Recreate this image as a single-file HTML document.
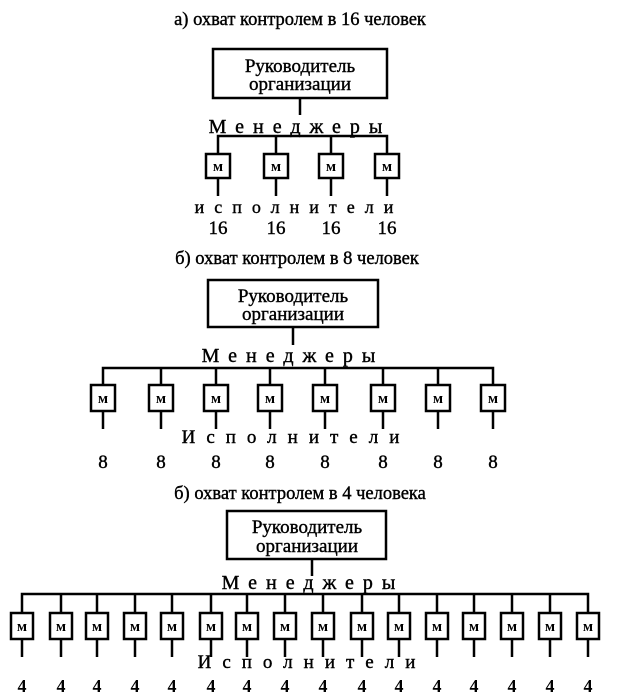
<!DOCTYPE html>
<html><head><meta charset="utf-8"><style>
html,body{margin:0;padding:0;background:#fff;}
svg{display:block;font-family:"Liberation Serif","DejaVu Serif",serif;}
</style></head><body>
<svg width="621" height="696" viewBox="0 0 621 696" xmlns="http://www.w3.org/2000/svg">
<g fill="none" stroke="#000" stroke-width="2.5">
<rect x="213" y="49" width="174" height="49"/>
<line x1="300" y1="98" x2="300" y2="115"/>
<polyline points="218,153 218,136 387,136 387,153"/>
<line x1="276" y1="136" x2="276" y2="153"/><line x1="331" y1="136" x2="331" y2="153"/>
<rect x="206" y="154" width="24" height="24"/><rect x="264" y="154" width="24" height="24"/>
<rect x="319" y="154" width="24" height="24"/><rect x="375" y="154" width="24" height="24"/>
<line x1="218" y1="178" x2="218" y2="196"/><line x1="276" y1="178" x2="276" y2="196"/>
<line x1="331" y1="178" x2="331" y2="196"/><line x1="387" y1="178" x2="387" y2="196"/>
<rect x="208" y="280" width="170" height="47"/>
<line x1="293" y1="327" x2="293" y2="345"/>
<polyline points="103,385 103,368 493,368 493,385"/>
<line x1="161" y1="368" x2="161" y2="385"/><line x1="216" y1="368" x2="216" y2="385"/>
<line x1="270" y1="368" x2="270" y2="385"/><line x1="325" y1="368" x2="325" y2="385"/>
<line x1="383" y1="368" x2="383" y2="385"/><line x1="438" y1="368" x2="438" y2="385"/>
<rect x="91" y="385" width="24" height="26"/><rect x="149" y="385" width="24" height="26"/>
<rect x="204" y="385" width="24" height="26"/><rect x="258" y="385" width="24" height="26"/>
<rect x="313" y="385" width="24" height="26"/><rect x="371" y="385" width="24" height="26"/>
<rect x="426" y="385" width="24" height="26"/><rect x="481" y="385" width="24" height="26"/>
<line x1="103" y1="411" x2="103" y2="429"/><line x1="161" y1="411" x2="161" y2="429"/>
<line x1="216" y1="411" x2="216" y2="429"/><line x1="270" y1="411" x2="270" y2="429"/>
<line x1="325" y1="411" x2="325" y2="429"/><line x1="383" y1="411" x2="383" y2="429"/>
<line x1="438" y1="411" x2="438" y2="429"/><line x1="493" y1="411" x2="493" y2="429"/>
<rect x="227" y="511" width="159" height="48"/>
<line x1="312" y1="559" x2="312" y2="576"/>
<polyline points="22,612 22,594 588,594 588,612"/>
<line x1="61" y1="594" x2="61" y2="612"/><line x1="97" y1="594" x2="97" y2="612"/>
<line x1="135" y1="594" x2="135" y2="612"/><line x1="172" y1="594" x2="172" y2="612"/>
<line x1="211" y1="594" x2="211" y2="612"/><line x1="247" y1="594" x2="247" y2="612"/>
<line x1="285" y1="594" x2="285" y2="612"/><line x1="323" y1="594" x2="323" y2="612"/>
<line x1="362" y1="594" x2="362" y2="612"/><line x1="399" y1="594" x2="399" y2="612"/>
<line x1="437" y1="594" x2="437" y2="612"/><line x1="474" y1="594" x2="474" y2="612"/>
<line x1="512" y1="594" x2="512" y2="612"/><line x1="550" y1="594" x2="550" y2="612"/>
<rect x="11" y="613" width="22" height="26"/><rect x="50" y="613" width="22" height="26"/>
<rect x="86" y="613" width="22" height="26"/><rect x="124" y="613" width="22" height="26"/>
<rect x="161" y="613" width="22" height="26"/><rect x="200" y="613" width="22" height="26"/>
<rect x="236" y="613" width="22" height="26"/><rect x="274" y="613" width="22" height="26"/>
<rect x="312" y="613" width="22" height="26"/><rect x="351" y="613" width="22" height="26"/>
<rect x="388" y="613" width="22" height="26"/><rect x="426" y="613" width="22" height="26"/>
<rect x="463" y="613" width="22" height="26"/><rect x="501" y="613" width="22" height="26"/>
<rect x="539" y="613" width="22" height="26"/><rect x="577" y="613" width="22" height="26"/>
<line x1="22" y1="639" x2="22" y2="657"/><line x1="61" y1="639" x2="61" y2="657"/>
<line x1="97" y1="639" x2="97" y2="657"/><line x1="135" y1="639" x2="135" y2="657"/>
<line x1="172" y1="639" x2="172" y2="657"/><line x1="211" y1="639" x2="211" y2="657"/>
<line x1="247" y1="639" x2="247" y2="657"/><line x1="285" y1="639" x2="285" y2="657"/>
<line x1="323" y1="639" x2="323" y2="657"/><line x1="362" y1="639" x2="362" y2="657"/>
<line x1="399" y1="639" x2="399" y2="657"/><line x1="437" y1="639" x2="437" y2="657"/>
<line x1="474" y1="639" x2="474" y2="657"/><line x1="512" y1="639" x2="512" y2="657"/>
<line x1="550" y1="639" x2="550" y2="657"/><line x1="588" y1="639" x2="588" y2="657"/>
</g>
<g fill="#000" stroke="#000" stroke-width="0.4" text-anchor="middle">
<text x="300" y="25" font-size="18.5">а) охват контролем в 16 человек</text>
<text x="300" y="72" font-size="19">Руководитель</text>
<text x="300" y="90" font-size="19">организации</text>
<text x="300" y="133" font-size="20" letter-spacing="9">Менеджеры</text>
<text x="299" y="213" font-size="18" letter-spacing="10">исполнители</text>
<g font-size="19"><text x="218" y="234">16</text><text x="276" y="234">16</text><text x="331" y="234">16</text><text x="387" y="234">16</text></g>

<text x="297" y="264" font-size="18.5">б) охват контролем в 8 человек</text>
<text x="293" y="302" font-size="19">Руководитель</text>
<text x="293" y="320" font-size="19">организации</text>
<text x="293" y="362" font-size="20" letter-spacing="9">Менеджеры</text>
<text x="296" y="443" font-size="19" letter-spacing="11">Исполнители</text>
<g font-size="19"><text x="103" y="468">8</text><text x="161" y="468">8</text><text x="216" y="468">8</text><text x="270" y="468">8</text><text x="325" y="468">8</text><text x="383" y="468">8</text><text x="438" y="468">8</text><text x="493" y="468">8</text></g>

<text x="300" y="499" font-size="18.5">б) охват контролем в 4 человека</text>
<text x="307" y="533" font-size="19">Руководитель</text>
<text x="307" y="552" font-size="19">организации</text>
<text x="313" y="589" font-size="20" letter-spacing="9">Менеджеры</text>
<text x="312" y="668" font-size="19" letter-spacing="11">Исполнители</text>
</g>
<g fill="#000" font-size="15" text-anchor="middle" font-weight="bold">
<text x="218" y="171">м</text><text x="276" y="171">м</text><text x="331" y="171">м</text><text x="387" y="171">м</text>
<text x="103" y="403">м</text><text x="161" y="403">м</text><text x="216" y="403">м</text><text x="270" y="403">м</text>
<text x="325" y="403">м</text><text x="383" y="403">м</text><text x="438" y="403">м</text><text x="493" y="403">м</text>
<text x="22" y="631">м</text><text x="61" y="631">м</text><text x="97" y="631">м</text><text x="135" y="631">м</text>
<text x="172" y="631">м</text><text x="211" y="631">м</text><text x="247" y="631">м</text><text x="285" y="631">м</text>
<text x="323" y="631">м</text><text x="362" y="631">м</text><text x="399" y="631">м</text><text x="437" y="631">м</text>
<text x="474" y="631">м</text><text x="512" y="631">м</text><text x="550" y="631">м</text><text x="588" y="631">м</text>
</g>
<g fill="#000" font-size="18" text-anchor="middle" font-weight="bold">
<text x="22" y="692">4</text><text x="61" y="692">4</text><text x="97" y="692">4</text><text x="135" y="692">4</text>
<text x="172" y="692">4</text><text x="211" y="692">4</text><text x="247" y="692">4</text><text x="285" y="692">4</text>
<text x="323" y="692">4</text><text x="362" y="692">4</text><text x="399" y="692">4</text><text x="437" y="692">4</text>
<text x="474" y="692">4</text><text x="512" y="692">4</text><text x="550" y="692">4</text><text x="588" y="692">4</text>
</g>
</svg>
</body></html>
